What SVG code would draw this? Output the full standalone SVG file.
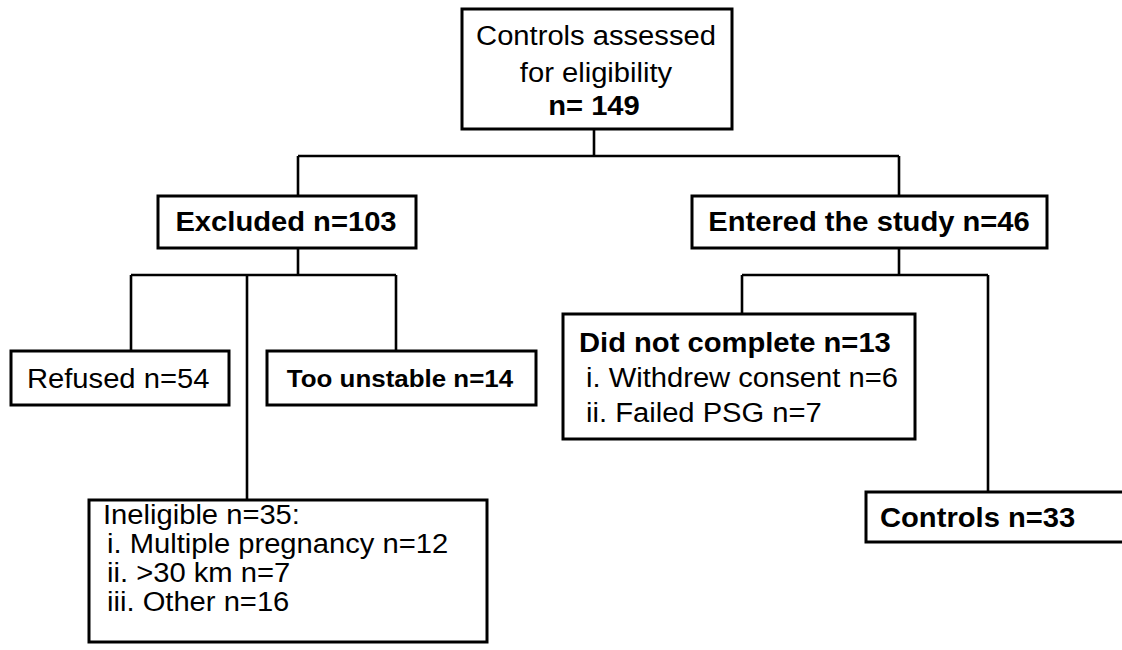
<svg xmlns="http://www.w3.org/2000/svg" width="1122" height="650" viewBox="0 0 1122 650">
<style>
.box{fill:#fff;stroke:#000;stroke-width:3}
.ln{fill:none;stroke:#000;stroke-width:2.6}
.t{font-family:"Liberation Sans",Arial,sans-serif;font-size:27px;fill:#000}
.b{font-weight:bold}
.m{text-anchor:middle}
</style>
<rect width="1122" height="650" fill="#fff"/>
<g id="connectors">
<line class="ln" x1="594" y1="129" x2="594" y2="156"/>
<line class="ln" x1="298" y1="156" x2="899" y2="156"/>
<line class="ln" x1="298" y1="156" x2="298" y2="196"/>
<line class="ln" x1="899" y1="156" x2="899" y2="196"/>
<line class="ln" x1="298" y1="248" x2="298" y2="275"/>
<line class="ln" x1="131" y1="275" x2="396" y2="275"/>
<line class="ln" x1="131" y1="275" x2="131" y2="351"/>
<line class="ln" x1="396" y1="275" x2="396" y2="351"/>
<line class="ln" x1="247" y1="275" x2="247" y2="500"/>
<line class="ln" x1="899" y1="248" x2="899" y2="275"/>
<line class="ln" x1="742" y1="275" x2="988" y2="275"/>
<line class="ln" x1="742" y1="275" x2="742" y2="314"/>
<line class="ln" x1="988" y1="275" x2="988" y2="492"/>
</g>
<g id="assessed">
<rect class="box" x="462" y="9" width="270" height="120"/>
<text class="t m" transform="translate(596,45) scale(1.08,1)">Controls assessed</text>
<text class="t m" transform="translate(596,82) scale(1.08,1)">for eligibility</text>
<text class="t m b" transform="translate(594,115) scale(1.08,1)">n= 149</text>
</g>
<g id="excluded">
<rect class="box" x="158" y="196" width="258" height="52"/>
<text class="t m b" transform="translate(286,231) scale(1.08,1)">Excluded n=103</text>
</g>
<g id="entered">
<rect class="box" x="692" y="196" width="355" height="52"/>
<text class="t m b" transform="translate(869,231) scale(1.08,1)">Entered the study n=46</text>
</g>
<g id="refused">
<rect class="box" x="11" y="351" width="218" height="54"/>
<text class="t" transform="translate(27,388) scale(1.08,1)">Refused n=54</text>
</g>
<g id="unstable">
<rect class="box" x="267" y="351" width="269" height="54"/>
<text class="t m b" style="font-size:24px" transform="translate(400,387) scale(1.08,1)">Too unstable n=14</text>
</g>
<g id="ineligible">
<rect class="box" x="89" y="500" width="398" height="142"/>
<text class="t" transform="translate(103,524) scale(1.08,1)">Ineligible n=35:</text>
<text class="t" transform="translate(107,553) scale(1.08,1)">i. Multiple pregnancy n=12</text>
<text class="t" transform="translate(107,582) scale(1.08,1)">ii. &gt;30 km n=7</text>
<text class="t" transform="translate(107,611) scale(1.08,1)">iii. Other n=16</text>
</g>
<g id="notcomplete">
<rect class="box" x="563" y="314" width="352" height="125"/>
<text class="t b" transform="translate(579,352) scale(1.08,1)">Did not complete n=13</text>
<text class="t" transform="translate(586,387) scale(1.08,1)">i. Withdrew consent n=6</text>
<text class="t" transform="translate(586,422) scale(1.08,1)">ii. Failed PSG n=7</text>
</g>
<g id="controls">
<rect class="box" x="866" y="492" width="270" height="50"/>
<text class="t b" transform="translate(880,527) scale(1.08,1)">Controls n=33</text>
</g>
</svg>
